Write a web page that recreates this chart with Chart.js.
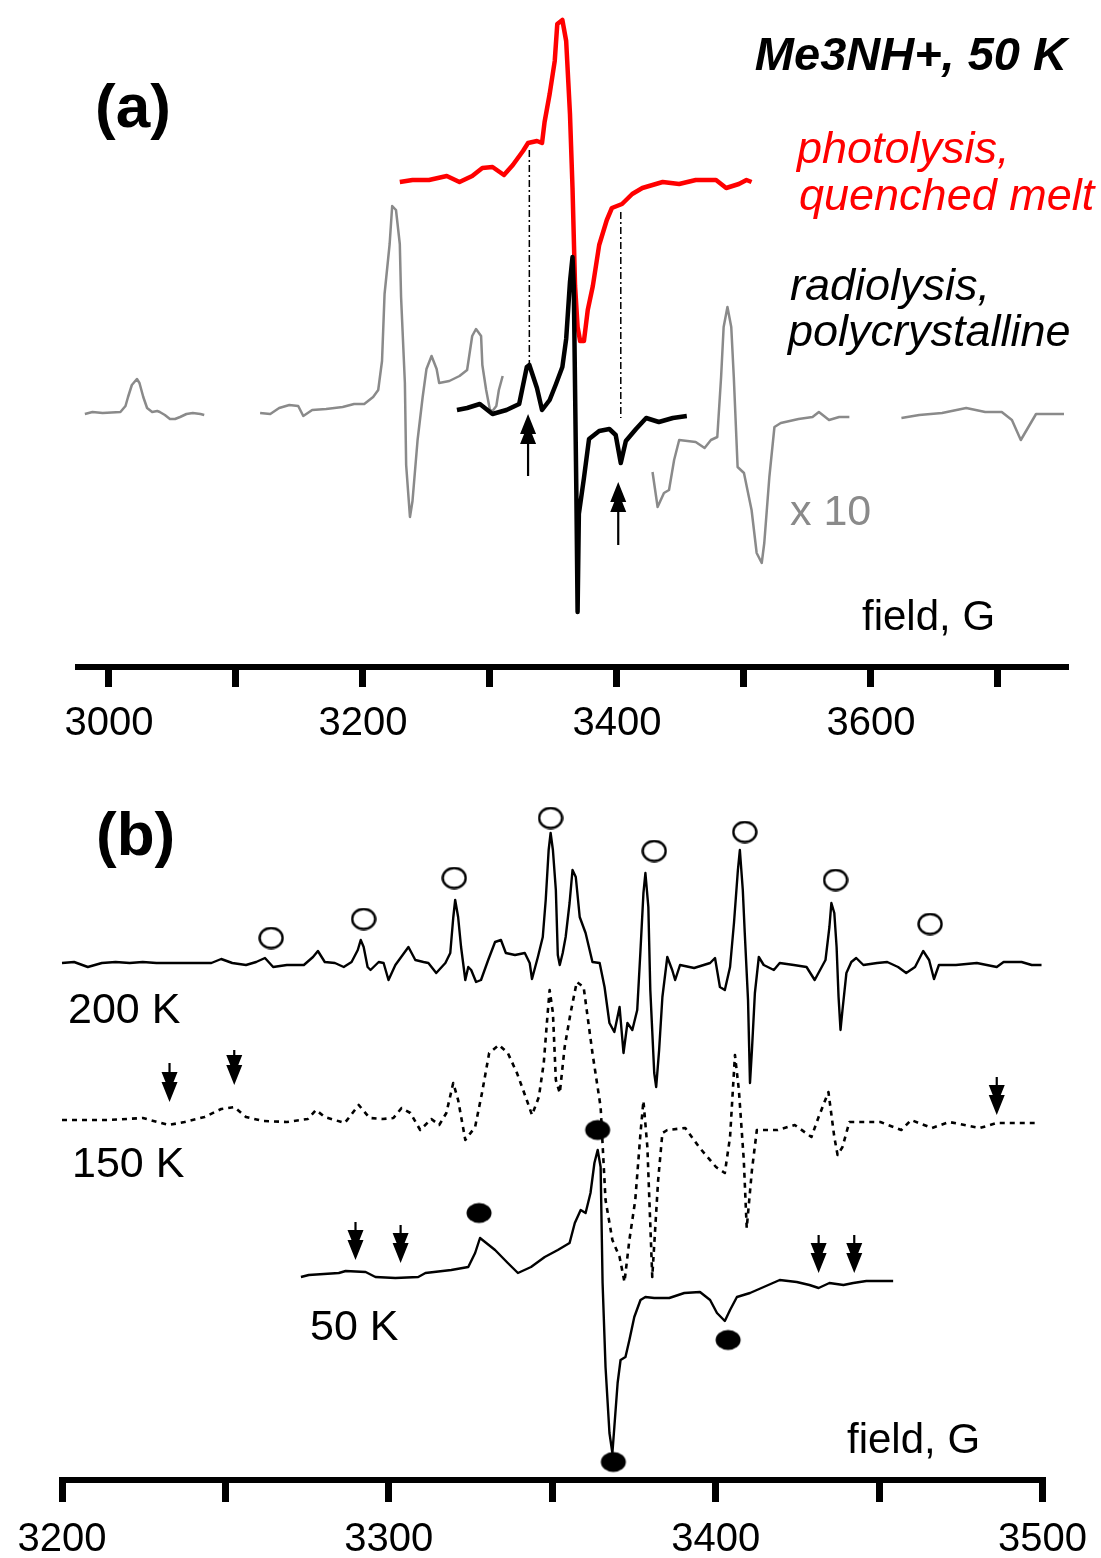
<!DOCTYPE html>
<html>
<head>
<meta charset="utf-8">
<script src="https://cdn.jsdelivr.net/npm/chart.js@4.4.1/dist/chart.umd.min.js"></script>
<style>
  body { margin: 0; background: #fff; }
  #wrap { position: relative; width: 1101px; height: 1558px; background: #fff; }
  canvas { position: absolute; left: 0; }
  #chartA { top: 0; }
  #chartB { top: 780px; }
</style>
</head>
<body>
<div id="wrap">
  <canvas id="chartA" width="1101" height="780"></canvas>
  <canvas id="chartB" width="1101" height="778"></canvas>
</div>
<script>
// Data, panel (a): field in G, signal in arbitrary units relative to each trace baseline
const ticksA = [3000, 3100, 3200, 3300, 3400, 3500, 3600, 3700];
const tickLabelsA = ["3000", "", "3200", "", "3400", "", "3600", ""];

// radiolysis x10 (grey), four pieces
const grayField1 = [2981, 2987, 2995, 3009, 3013, 3015, 3018, 3022, 3024, 3027, 3030, 3034, 3038, 3040, 3044, 3048, 3052, 3056, 3061, 3066, 3072, 3075];
const grayInt1 = [-1, 1, 0, 1, 7, 16, 28, 34, 30, 16, 5, 1, 2, 1, -2, -6, -6, -4, -1, 0, -1, -2];
const grayField2 = [3119, 3127, 3134, 3142, 3149, 3153, 3160, 3171, 3184, 3193,
  3201, 3208, 3212, 3215, 3217, 3221, 3223, 3226, 3229, 3230,
  3233, 3234, 3237, 3239, 3243, 3247, 3250, 3254, 3258, 3260,
  3268, 3276, 3282, 3286, 3289, 3293, 3294, 3297, 3300, 3302,
  3305, 3307, 3310];
const grayInt2 = [0, -1, 5, 8, 7, -3, 3, 4, 6, 9,
  9, 16, 23, 52, 119, 169, 207, 203, 169, 116,
  30, -52, -104, -88, -27, 16, 44, 57, 44, 30,
  32, 37, 43, 77, 84, 77, 48, 23, 3, 2,
  7, 23, 37];
const grayField3 = [3428, 3432, 3437, 3441, 3445, 3449, 3462, 3469, 3474, 3479,
  3482, 3484, 3487, 3490, 3492, 3495, 3500, 3506, 3510, 3514,
  3516, 3520, 3524, 3529, 3543, 3554, 3559, 3567, 3575, 3583];
const grayInt3 = [-59, -94, -80, -77, -47, -27, -29, -35, -27, -24,
  36, 86, 106, 86, 36, -54, -60, -97, -140, -150,
  -130, -64, -14, -10, -6, -4, 1, -7, -4, -4];
const grayField4 = [3624, 3638, 3656, 3675, 3690, 3703, 3711, 3718, 3724, 3730, 3752];
const grayInt4 = [-5, -2, 0, 5, 1, 1, -7, -27, -14, -1, -1];

// radiolysis, polycrystalline (black)
const radField = [3274, 3282, 3292, 3302, 3313, 3323, 3329, 3331, 3337, 3341,
  3347, 3352, 3357, 3360, 3363, 3365, 3366, 3368, 3369, 3370,
  3374, 3378, 3386, 3394, 3399, 3403, 3407, 3415, 3423, 3433,
  3444, 3455];
const radInt = [0, 2, 6, -4, 0, 6, 43, 45, 22, 0,
  10, 26, 43, 71, 128, 153, 124, -80, -202, -104,
  -68, -29, -21, -19, -25, -53, -31, -19, -8, -12,
  -8, -6];

// photolysis, quenched melt (red)
const photoField = [3229, 3239, 3252, 3266, 3276, 3286, 3294, 3302, 3311, 3318,
  3326, 3330, 3337, 3341, 3343, 3347, 3351, 3353, 3357, 3360,
  3363, 3365, 3367, 3369, 3371, 3374, 3377, 3381, 3386, 3392,
  3396, 3404, 3412, 3420, 3436, 3449, 3462, 3478, 3486, 3496,
  3502, 3506];
const photoInt = [0, 2, 2, 6, 0, 6, 14, 15, 7, 17,
  31, 39, 41, 39, 60, 88, 121, 158, 162, 141,
  68, -6, -104, -145, -159, -159, -128, -104, -63, -38,
  -26, -22, -12, -6, 0, -2, 2, 2, -6, -2,
  2, 0];

// dash-dot guides and marked lines (panel units)
const guideField = [3331, 3403];
const guideTop = [517, 455];
const guideBottom = [302, 249];
const upArrowField = [3330, 3401];
const upArrowTail = [191, 122];
const upArrowTip = [253, 185];

// Data, panel (b)
const ticksB = [3200, 3250, 3300, 3350, 3400, 3450, 3500];
const tickLabelsB = ["3200", "", "3300", "", "3400", "", "3500"];

const t200Field = [3200, 3203.7, 3207.9, 3212.2, 3216.4, 3220.7, 3224.7, 3228.9, 3235.3, 3241.4,
  3245.7, 3248.7, 3252.1, 3256.3, 3259.4, 3262.1, 3264.6, 3268.8, 3274.0, 3276.8,
  3278.3, 3280.4, 3283.5, 3286.2, 3288.6, 3290.5, 3291.4, 3292.3, 3293.5, 3294.4,
  3296.9, 3298.4, 3299.9, 3302.0, 3306.0, 3308.1, 3310.6, 3312.1, 3314.5, 3317.3,
  3318.8, 3319.7, 3320.3, 3321.2, 3322.1, 3323.4, 3324.3, 3325.2, 3326.7, 3328.2,
  3330.4, 3332.5, 3334.3, 3335.8, 3338.6, 3341.6, 3343.1, 3343.8, 3345.6, 3347.1,
  3348.0, 3348.9, 3349.5, 3350.2, 3351.1, 3351.7, 3352.3, 3353.2, 3354.1, 3355.3,
  3356.2, 3357.2, 3358.4, 3360.2, 3362.3, 3364.5, 3366.0, 3367.5, 3369.0, 3370.6,
  3371.8, 3373.0, 3374.5, 3376.0, 3377.0, 3377.9, 3378.5, 3379.4, 3380.0, 3381.2,
  3381.8, 3382.7, 3383.7, 3385.2, 3386.7, 3387.6, 3389.1, 3393.4, 3398.3, 3399.8,
  3401.3, 3402.8, 3404.4, 3405.6, 3406.8, 3407.4, 3408.3, 3408.9, 3409.9, 3410.5,
  3411.1, 3412.0, 3413.2, 3414.7, 3417.8, 3419.6, 3423.9, 3427.8, 3430.3, 3433.6,
  3434.8, 3435.4, 3436.3, 3437.0, 3437.6, 3438.2, 3438.8, 3440.0, 3441.5, 3443.0,
  3445.2, 3449.4, 3452.5, 3455.8, 3458.3, 3461.0, 3463.5, 3465.3, 3466.8, 3468.3,
  3473.5, 3479.9, 3486.0, 3488.1, 3493.6, 3496.7, 3499.7];
const t200Int = [1, 2, -3, 1, 2, 1, 2, 1, 1, 1,
  1, 5, 1, -1, 2, 6, -3, -1, -1, 7,
  13, 2, 1, -3, 2, 14, 24, 17, -3, -6,
  2, 1, -16, -1, 17, 4, 2, 1, -9, 1,
  11, 46, 64, 47, 17, -16, -3, -6, -18, -16,
  4, 22, 24, 11, 9, 11, 1, -15, 7, 27,
  64, 114, 131, 114, 74, 9, -1, 11, 27, 61,
  94, 87, 47, 31, 2, 1, -23, -59, -68, -43,
  -89, -59, -66, -46, 14, 71, 91, 57, -26, -109,
  -123, -86, -33, 7, -6, -16, -1, -4, 1, 6,
  -23, -26, -3, 41, 94, 114, 74, 31, -36, -119,
  -86, -29, 7, -1, -6, 1, -1, -3, -16, 4,
  37, 61, 51, 17, -33, -66, -46, -9, 2, 6,
  -1, 1, 2, -3, -9, -3, 13, 4, -15, -1,
  -1, 1, -3, 2, 2, -1, -1];

const t150Field = [3200, 3214.3, 3224.7, 3232.6, 3237.5, 3243.6, 3248.7, 3252.7, 3256.3, 3261.5,
  3268.8, 3275.2, 3277.7, 3280.4, 3286.5, 3290.8, 3294.1, 3298.1, 3301.4, 3303.9,
  3306.6, 3309.6, 3313.0, 3315.4, 3317.6, 3319.7, 3321.2, 3323.4, 3326.4, 3328.5,
  3330.7, 3333.7, 3336.4, 3339.2, 3342.2, 3343.8, 3345.9, 3347.4, 3348.6, 3349.2,
  3350.2, 3351.1, 3352.3, 3353.8, 3355.6, 3357.5, 3359.6, 3362.3, 3364.8, 3366.3,
  3368.4, 3370.6, 3372.1, 3373.6, 3375.4, 3377.0, 3377.9, 3379.1, 3380.6, 3382.4,
  3383.7, 3385.2, 3390.7, 3394.9, 3400.1, 3402.8, 3404.4, 3405.9, 3407.1, 3408.6,
  3409.5, 3411.1, 3412.6, 3419.0, 3424.2, 3429.3, 3431.5, 3434.5, 3436.3, 3437.3,
  3438.8, 3440.9, 3450.4, 3456.8, 3459.8, 3466.2, 3471.4, 3480.8, 3486.0, 3497.6];
const t150Int = [1, 1, 3, -4, -1, 4, 12, 14, 4, 0,
  -1, 2, 11, 4, -2, 16, 3, 2, 3, 13,
  8, -9, 2, -4, 8, 38, 21, -19, -6, 28,
  68, 76, 68, 48, 21, 6, 24, 58, 108, 131,
  108, 41, 28, 74, 108, 139, 134, 68, 14, -79,
  -119, -136, -161, -119, -79, -12, 20, -26, -156, -59,
  -12, -9, -7, -26, -46, -52, -16, 66, 31, -39,
  -107, -49, -9, -9, -4, -16, 4, 29, -16, -34,
  -26, -1, -1, -9, 1, -7, -1, -7, -2, -2];

const t50Field = [3273.1, 3275.5, 3284.7, 3286.8, 3292.9, 3295.9, 3302.0, 3309.0, 3311.2, 3319.1,
  3324.3, 3326.4, 3327.9, 3332.5, 3336.4, 3339.5, 3343.5, 3347.7, 3351.7, 3355.3,
  3356.9, 3358.7, 3360.2, 3361.7, 3362.9, 3363.9, 3364.8, 3365.4, 3366.3, 3367.5,
  3368.4, 3369.0, 3370.0, 3370.9, 3372.4, 3373.6, 3375.1, 3377.0, 3378.5, 3381.2,
  3385.8, 3390.4, 3395.2, 3398.3, 3400.4, 3402.8, 3404.4, 3406.5, 3410.5, 3414.7,
  3419.6, 3424.8, 3428.7, 3431.5, 3434.8, 3439.1, 3442.1, 3446.1, 3454.3];
const t50Int = [-2, 0, 2, 4, 3, -2, -3, -2, 2, 5,
  8, 22, 37, 25, 12, 2, 8, 18, 25, 32,
  52, 65, 62, 82, 112, 125, 108, -8, -92, -158,
  -178, -152, -108, -85, -82, -65, -42, -25, -22, -23,
  -23, -18, -17, -25, -38, -46, -35, -22, -18, -12,
  -5, -7, -10, -13, -8, -10, -8, -6, -6];

// open circles (200 K lines), filled circles (50 K lines)
const openField = [3264.0, 3292.3, 3320.0, 3349.5, 3381.2, 3408.9, 3436.7, 3465.6];
const openInt = [26, 45, 86, 146, 113, 132, 84, 40];
const filledField = [3327.6, 3363.9, 3403.8, 3368.7];
const filledInt = [62, 145, -65, -187];

// down arrows on the 150 K and 50 K traces
const arrow150Field = [3232.9, 3252.7, 3486.0];
const arrow150Top = [58, 71, 44];
const arrow150Tip = [19, 36, 6];
const arrow50Field = [3289.8, 3303.6, 3431.5, 3442.4];
const arrow50Top = [53, 50, 40, 40];
const arrow50Tip = [15, 12, 2, 2];

// trace baselines (stacking offsets)
const grayOffset = 254, radOffset = 257, photoOffset = 485;
const off200 = 516, off150 = 359, off50 = 205;

const FONT = '"Liberation Sans", Arial, sans-serif';

function trace(fields, values, offset) {
  const n = Math.min(fields.length, values.length);
  const pts = [];
  for (let i = 0; i < n; i++) pts.push({ x: fields[i], y: values[i] + offset });
  return pts;
}

function ellipseMarker(w, h, filled) {
  const c = document.createElement("canvas");
  c.width = w; c.height = h;
  const g = c.getContext("2d");
  g.beginPath();
  g.ellipse(w / 2, h / 2, w / 2 - 1.5, h / 2 - 1.5, 0, 0, Math.PI * 2);
  if (filled) { g.fillStyle = "#000"; g.fill(); }
  else { g.fillStyle = "#fff"; g.fill(); g.lineWidth = 2.4; g.strokeStyle = "#000"; g.stroke(); }
  return c;
}

function xAxis(min, max, ticks, labels, height, tickLength, pad) {
  return {
    type: "linear", position: "bottom", min: min, max: max,
    afterBuildTicks: (scale) => { scale.ticks = ticks.map(v => ({ value: v })); },
    afterFit: (scale) => { scale.height = height; },
    grid: { drawOnChartArea: false, drawTicks: true, tickLength: tickLength, tickWidth: 7, tickColor: "#000", color: "#000", lineWidth: 7 },
    border: { display: true, color: "#000", width: 6 },
    ticks: {
      color: "#000", padding: pad, autoSkip: false, maxRotation: 0,
      font: { family: FONT, size: 40 },
      callback: (value, index) => labels[index]
    }
  };
}

function drawArrow(ctx, x, yTail, yTip) {
  const d = yTip > yTail ? 1 : -1;
  ctx.save();
  ctx.strokeStyle = "#000";
  ctx.fillStyle = "#000";
  ctx.lineWidth = 2.2;
  ctx.beginPath();
  ctx.moveTo(x, yTail);
  ctx.lineTo(x, yTip - d * 10);
  ctx.stroke();
  ctx.beginPath();
  ctx.moveTo(x, yTip);
  ctx.lineTo(x - 8, yTip - d * 20);
  ctx.lineTo(x - 4, yTip - d * 20);
  ctx.lineTo(x - 8, yTip - d * 30);
  ctx.lineTo(x + 8, yTip - d * 30);
  ctx.lineTo(x + 4, yTip - d * 20);
  ctx.lineTo(x + 8, yTip - d * 20);
  ctx.closePath();
  ctx.fill();
  ctx.restore();
}

function drawTexts(ctx, items) {
  ctx.save();
  ctx.textBaseline = "alphabetic";
  items.forEach(t => {
    ctx.font = t.font;
    ctx.fillStyle = t.color || "#000";
    ctx.textAlign = t.align || "left";
    ctx.fillText(t.text, t.x, t.y);
  });
  ctx.restore();
}

const lineDefaults = {
  point: { radius: 0, hoverRadius: 0 },
  line: { tension: 0, fill: false, borderJoinStyle: "round", borderCapStyle: "butt" }
};

// Configuration, panel (a)
const grayStyle = { borderColor: "#8a8a8a", borderWidth: 2.5, clip: false };
const guideStyle = { borderColor: "#000", borderWidth: 1.5, borderDash: [7, 3, 2, 3], clip: false };

const dataA = {
  datasets: [
    { data: trace(radField, radInt, radOffset), borderColor: "#000", borderWidth: 4.5, clip: false },
    { data: trace(photoField, photoInt, photoOffset), borderColor: "#ff0000", borderWidth: 4.5, clip: false },
    Object.assign({ data: trace(grayField1, grayInt1, grayOffset) }, grayStyle),
    Object.assign({ data: trace(grayField2, grayInt2, grayOffset) }, grayStyle),
    Object.assign({ data: trace(grayField3, grayInt3, grayOffset) }, grayStyle),
    Object.assign({ data: trace(grayField4, grayInt4, grayOffset) }, grayStyle),
    Object.assign({ data: [{ x: guideField[0], y: guideTop[0] }, { x: guideField[0], y: guideBottom[0] }] }, guideStyle),
    Object.assign({ data: [{ x: guideField[1], y: guideTop[1] }, { x: guideField[1], y: guideBottom[1] }] }, guideStyle)
  ]
};

const annotA = {
  id: "annotA",
  afterDatasetsDraw(chart) {
    const ctx = chart.ctx, xs = chart.scales.x, ys = chart.scales.y;
    upArrowField.forEach((f, i) => {
      drawArrow(ctx, xs.getPixelForValue(f), ys.getPixelForValue(upArrowTail[i]), ys.getPixelForValue(upArrowTip[i]));
    });
    drawTexts(ctx, [
      { text: "(a)", x: 95, y: 127, font: "bold 62px " + FONT },
      { text: "Me3NH+, 50 K", x: 1067, y: 70, font: "italic bold 47px " + FONT, align: "right" },
      { text: "photolysis,", x: 797, y: 163, font: "italic 45px " + FONT, color: "#ff0000" },
      { text: "quenched melt", x: 799, y: 210, font: "italic 45px " + FONT, color: "#ff0000" },
      { text: "radiolysis,", x: 790, y: 300, font: "italic 45px " + FONT },
      { text: "polycrystalline", x: 788, y: 346, font: "italic 45px " + FONT },
      { text: "x 10", x: 790, y: 525, font: "43px " + FONT, color: "#8a8a8a" },
      { text: "field, G", x: 862, y: 630, font: "42px " + FONT }
    ]);
  }
};

const configA = {
  type: "line",
  data: dataA,
  options: {
    responsive: false, animation: false, devicePixelRatio: 1,
    layout: { autoPadding: false, padding: { left: 78, right: 36, top: 0, bottom: 0 } },
    elements: lineDefaults,
    plugins: { legend: { display: false }, tooltip: { enabled: false } },
    scales: {
      x: xAxis(2975.6, 3752.8, ticksA, tickLabelsA, 113, 20, 13),
      y: { type: "linear", display: false, min: 0, max: 667 }
    }
  },
  plugins: [annotA]
};

// Configuration, panel (b)
const openMarker = ellipseMarker(26, 23, false);
const filledMarker = ellipseMarker(28, 23, true);

const dataB = {
  datasets: [
    { data: openField.map((f, i) => ({ x: f, y: openInt[i] + off200 })), showLine: false, pointStyle: openMarker, pointRadius: 12, clip: false },
    { data: filledField.map((f, i) => ({ x: f, y: filledInt[i] + off50 })), showLine: false, pointStyle: filledMarker, pointRadius: 12, clip: false },
    { data: trace(t200Field, t200Int, off200), borderColor: "#000", borderWidth: 2.4, clip: false },
    { data: trace(t50Field, t50Int, off50), borderColor: "#000", borderWidth: 2.4, clip: false },
    { data: trace(t150Field, t150Int, off150), borderColor: "#000", borderWidth: 2.6, borderDash: [5, 5], clip: false }
  ]
};

const annotB = {
  id: "annotB",
  afterDatasetsDraw(chart) {
    const ctx = chart.ctx, xs = chart.scales.x, ys = chart.scales.y;
    arrow150Field.forEach((f, i) => {
      drawArrow(ctx, xs.getPixelForValue(f), ys.getPixelForValue(arrow150Top[i] + off150), ys.getPixelForValue(arrow150Tip[i] + off150));
    });
    arrow50Field.forEach((f, i) => {
      drawArrow(ctx, xs.getPixelForValue(f), ys.getPixelForValue(arrow50Top[i] + off50), ys.getPixelForValue(arrow50Tip[i] + off50));
    });
    drawTexts(ctx, [
      { text: "(b)", x: 96, y: 75, font: "bold 62px " + FONT },
      { text: "200 K", x: 68, y: 243, font: "43px " + FONT },
      { text: "150 K", x: 72, y: 397, font: "43px " + FONT },
      { text: "50 K", x: 310, y: 560, font: "43px " + FONT },
      { text: "field, G", x: 847, y: 673, font: "42px " + FONT }
    ]);
  }
};

const configB = {
  type: "line",
  data: dataB,
  options: {
    responsive: false, animation: false, devicePixelRatio: 1,
    layout: { autoPadding: false, padding: { left: 62, right: 54, top: 0, bottom: 0 } },
    elements: lineDefaults,
    plugins: { legend: { display: false }, tooltip: { enabled: false } },
    scales: {
      x: xAxis(3200, 3500, ticksB, tickLabelsB, 78, 22, 14),
      y: { type: "linear", display: false, min: 0, max: 700 }
    }
  },
  plugins: [annotB]
};

// Create charts
const chartA = new Chart(document.getElementById("chartA").getContext("2d"), configA);
const chartB = new Chart(document.getElementById("chartB").getContext("2d"), configB);
</script>
</body>
</html>
